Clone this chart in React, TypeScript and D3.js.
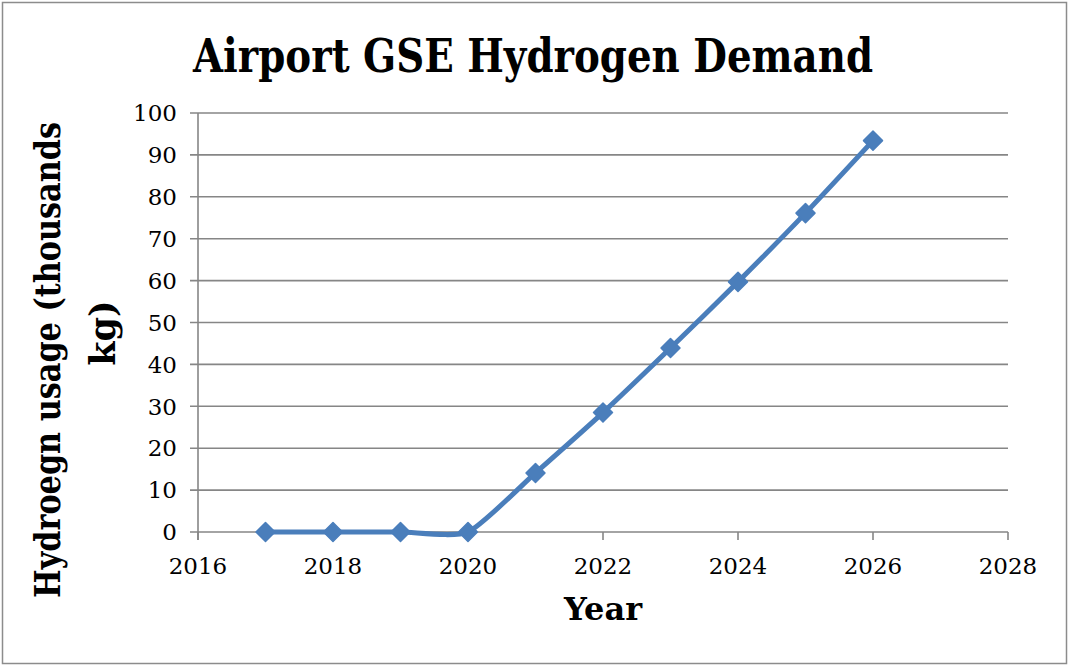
import React from "react";
import * as d3 from "d3";

const years = [2017, 2018, 2019, 2020, 2021, 2022, 2023, 2024, 2025, 2026];
const usage = [0, 0, 0, 0, 14.1, 28.5, 43.9, 59.7, 76.1, 93.4];
const xTicks = [2016, 2018, 2020, 2022, 2024, 2026, 2028];
const yTicks = [0, 10, 20, 30, 40, 50, 60, 70, 80, 90, 100];

const W = 1068;
const H = 665;
const plot = { left: 198, right: 1008, top: 113, bottom: 532 };
const serif = "'DejaVu Serif', 'Liberation Serif', serif";
const lineColor = "#4a7ebb";
const gridColor = "#868686";

export default function App() {
	const x = d3.scaleLinear().domain([2016, 2028]).range([plot.left, plot.right]);
	const y = d3.scaleLinear().domain([0, 100]).range([plot.bottom, plot.top]);

	const points = years.map((yr, i) => [yr, usage[i]] as [number, number]);
	// excel-style smoothed line, it dips a little below zero before 2020
	const line = d3
		.line<[number, number]>()
		.x((d) => x(d[0]))
		.y((d) => y(d[1]))
		.curve(d3.curveCardinal.tension(0.4));

	const diamond = (cx: number, cy: number, r: number) =>
		`M${cx},${cy - r}L${cx + r},${cy}L${cx},${cy + r}L${cx - r},${cy}Z`;

	return (
		<div style={{ position: "fixed", left: 0, top: 0 }}>
			<svg width={W} height={H} style={{ display: "block", background: "#fff" }}>
				<rect x={2.5} y={2.5} width={W - 4} height={H - 4} fill="#fff" stroke="#8c8c8c" strokeWidth={1.5} />

				<text
					x={533}
					y={72}
					textAnchor="middle"
					fontFamily={serif}
					fontWeight="bold"
					fontSize={46}
					textLength={680}
					lengthAdjust="spacingAndGlyphs"
				>
					Airport GSE Hydrogen Demand
				</text>

				{/* gridlines + y ticks */}
				{yTicks.map((t) => (
					<g key={t}>
						<line x1={plot.left - 8} x2={plot.right} y1={y(t)} y2={y(t)} stroke={gridColor} strokeWidth={1.6} />
						<text
							x={177}
							y={y(t)}
							dy="0.36em"
							textAnchor="end"
							fontFamily={serif}
							fontSize={23}
						>
							{t}
						</text>
					</g>
				))}

				{/* axes */}
				<line x1={plot.left} x2={plot.left} y1={plot.top} y2={plot.bottom + 8} stroke={gridColor} strokeWidth={1.6} />
				{xTicks.map((t) => (
					<g key={t}>
						<line x1={x(t)} x2={x(t)} y1={plot.bottom} y2={plot.bottom + 8} stroke={gridColor} strokeWidth={1.6} />
						<text x={x(t)} y={574} textAnchor="middle" fontFamily={serif} fontSize={23}>
							{t}
						</text>
					</g>
				))}

				{/* series */}
				<path d={line(points) || ""} fill="none" stroke={lineColor} strokeWidth={5} strokeLinejoin="round" />
				{points.map((p) => (
					<path key={p[0]} d={diamond(x(p[0]), y(p[1]), 9.5)} fill={lineColor} stroke={lineColor} strokeWidth={1.5} strokeLinejoin="round" />
				))}

				{/* axis titles */}
				<text x={603} y={620} textAnchor="middle" fontFamily={serif} fontWeight="bold" fontSize={32}>
					Year
				</text>
				<text
					transform={`translate(60,360) rotate(-90)`}
					textAnchor="middle"
					fontFamily={serif}
					fontWeight="bold"
					fontSize={35}
					textLength={476}
					lengthAdjust="spacingAndGlyphs"
				>
					Hydroegn usage (thousands
				</text>
				<text
					transform={`translate(115,333) rotate(-90)`}
					textAnchor="middle"
					fontFamily={serif}
					fontWeight="bold"
					fontSize={35}
				>
					kg)
				</text>
			</svg>
		</div>
	);
}
